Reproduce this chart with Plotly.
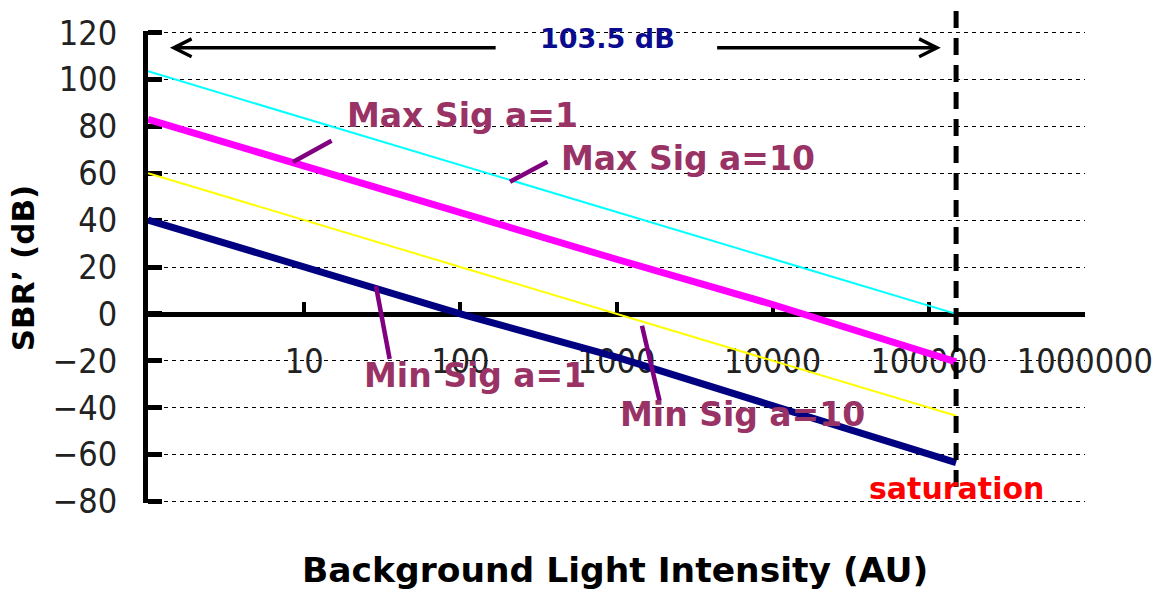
import numpy as np
import plotly.graph_objects as go

# Background light intensity (AU) sampled at each decade up to saturation
intensity = [1, 10, 100, 1000, 10000, 100000, 149600]

# SBR' (dB) for each signal condition
max_sig_a10 = [103.5, 83.5, 63.5, 43.5, 23.5, 3.5, 0.0]
max_sig_a1 = [83.0, 63.0, 43.0, 23.3, 4.0, -16.5, -20.5]
min_sig_a10 = [60.0, 40.0, 20.0, 0.0, -20.0, -40.0, -43.5]
min_sig_a1 = [40.0, 20.0, 0.0, -18.5, -39.0, -60.0, -63.5]

x_tick_vals = [10, 100, 1000, 10000, 100000, 1000000]
x_tick_text = ["10", "100", "1000", "10000", "100000", "1000000"]
y_tick_vals = [-80, -60, -40, -20, 0, 20, 40, 60, 80, 100, 120]

saturation_level = 149600
dynamic_range_db = 103.5

LABEL_COLOR = "#993366"
POINTER_COLOR = "#800080"
BOLD_FONT = "DejaVu Sans"
TICK_FONT = "Liberation Sans Narrow, DejaVu Sans Condensed, Liberation Sans, Arial"

fig = go.Figure()

series = [
    ("Max Sig a=10", max_sig_a10, "#00FFFF", 2),
    ("Min Sig a=10", min_sig_a10, "#FFFF00", 2),
    ("Max Sig a=1", max_sig_a1, "#FF00FF", 7),
    ("Min Sig a=1", min_sig_a1, "#000080", 7),
]
for name, values, color, width in series:
    fig.add_trace(go.Scatter(
        x=intensity, y=values, name=name, mode="lines",
        line=dict(color=color, width=width),
        showlegend=False, hoverinfo="x+y+name",
    ))

lg = np.log10  # annotation x positions on a log axis are given in log units

annotations = []

# Leader lines from each label to its curve (head on the curve, tail near the label)
pointers = [
    ((8.48, 64.8), (15.3, 74.2)),       # Max Sig a=1
    ((208.0, 56.4), (369.0, 65.3)),     # Max Sig a=10
    ((28.8, 11.9), (35.4, -19.9)),      # Min Sig a=1
    ((1456.0, -5.1), (1897.0, -37.7)),  # Min Sig a=10
]
for (hx, hy), (tx, ty) in pointers:
    annotations.append(dict(
        x=lg(hx), y=hy, ax=lg(tx), ay=ty, xref="x", yref="y", axref="x", ayref="y",
        text="", showarrow=True, arrowhead=0, arrowwidth=4.5, arrowcolor=POINTER_COLOR,
        standoff=0, startstandoff=0,
    ))

# Curve labels
labels = [
    ("Max Sig a=1", 18.2, 84.5),
    ("Max Sig a=10", 428.0, 66.5),
    ("Min Sig a=1", 23.4, -26.3),
    ("Min Sig a=10", 1021.0, -42.8),
]
for text, lx, ly in labels:
    annotations.append(dict(
        x=lg(lx), y=ly, xref="x", yref="y", text=text, showarrow=False,
        xanchor="left", yanchor="middle",
        font=dict(family=BOLD_FONT, size=33, color=LABEL_COLOR, weight="bold"),
    ))

# Dynamic-range arrows spanning from the left edge to saturation
arrow_y = 113.5
for head_x, tail_x in [(1.38, 172.0), (119400.0, 4315.0)]:
    annotations.append(dict(
        x=lg(head_x), y=arrow_y, ax=lg(tail_x), ay=arrow_y,
        xref="x", yref="y", axref="x", ayref="y",
        text="", showarrow=True, arrowhead=5, arrowsize=1.0, arrowwidth=3.5,
        arrowcolor="black", standoff=0, startstandoff=0,
    ))
annotations.append(dict(
    x=lg(870.0), y=117.5, xref="x", yref="y", text=f"{dynamic_range_db} dB",
    showarrow=False, xanchor="center", yanchor="middle",
    font=dict(family=BOLD_FONT, size=27, color="#0b0b8f", weight="bold"),
))

annotations.append(dict(
    x=lg(saturation_level), y=-74.5, xref="x", yref="y", text="saturation",
    showarrow=False, xanchor="center", yanchor="middle",
    font=dict(family=BOLD_FONT, size=30, color="#FF0000", weight="bold"),
))

# Axis titles
annotations.append(dict(
    x=0.498, y=-0.142, xref="paper", yref="paper",
    text="Background Light Intensity (AU)", showarrow=False,
    xanchor="center", yanchor="middle",
    font=dict(family=BOLD_FONT, size=34.5, color="black", weight="bold"),
))
annotations.append(dict(
    x=-0.133, y=0.498, xref="paper", yref="paper",
    text="SBR\u2019 (dB)", showarrow=False, textangle=-90,
    xanchor="center", yanchor="middle",
    font=dict(family=BOLD_FONT, size=31, color="black", weight="bold"),
))

# Saturation marker
fig.add_shape(
    type="line", xref="x", yref="paper",
    x0=saturation_level, x1=saturation_level, y0=0.034, y1=1.045,
    line=dict(color="black", width=5, dash="17px,10px"),
)

fig.update_layout(
    width=1152, height=590,
    margin=dict(l=148, r=67, t=31, b=87, autoexpand=False),
    paper_bgcolor="white", plot_bgcolor="white",
    annotations=annotations,
    showlegend=False,
)

fig.update_xaxes(
    type="log", range=[-0.0005, 6.0005], anchor="free", position=0.4,
    showline=True, linecolor="black", linewidth=5,
    ticks="inside", ticklen=10, tickwidth=4, tickcolor="black",
    tickmode="array", tickvals=x_tick_vals, ticktext=x_tick_text,
    tickfont=dict(family=TICK_FONT, size=34, color="#222222"),
    ticklabelstandoff=15, ticklabeloverflow="allow",
    showgrid=False, zeroline=False, layer="below traces",
    automargin=False,
)
fig.update_yaxes(
    range=[-80.7, 120.7],
    showline=True, linecolor="black", linewidth=5,
    ticks="inside", ticklen=14, tickwidth=5, tickcolor="black",
    tickmode="array", tickvals=y_tick_vals,
    tickfont=dict(family=TICK_FONT, size=34, color="#222222"),
    ticklabelstandoff=19,
    showgrid=True, gridcolor="black", gridwidth=1, griddash="4px,4px",
    zeroline=False, layer="below traces",
    automargin=False,
)

fig.write_html("out.html")
